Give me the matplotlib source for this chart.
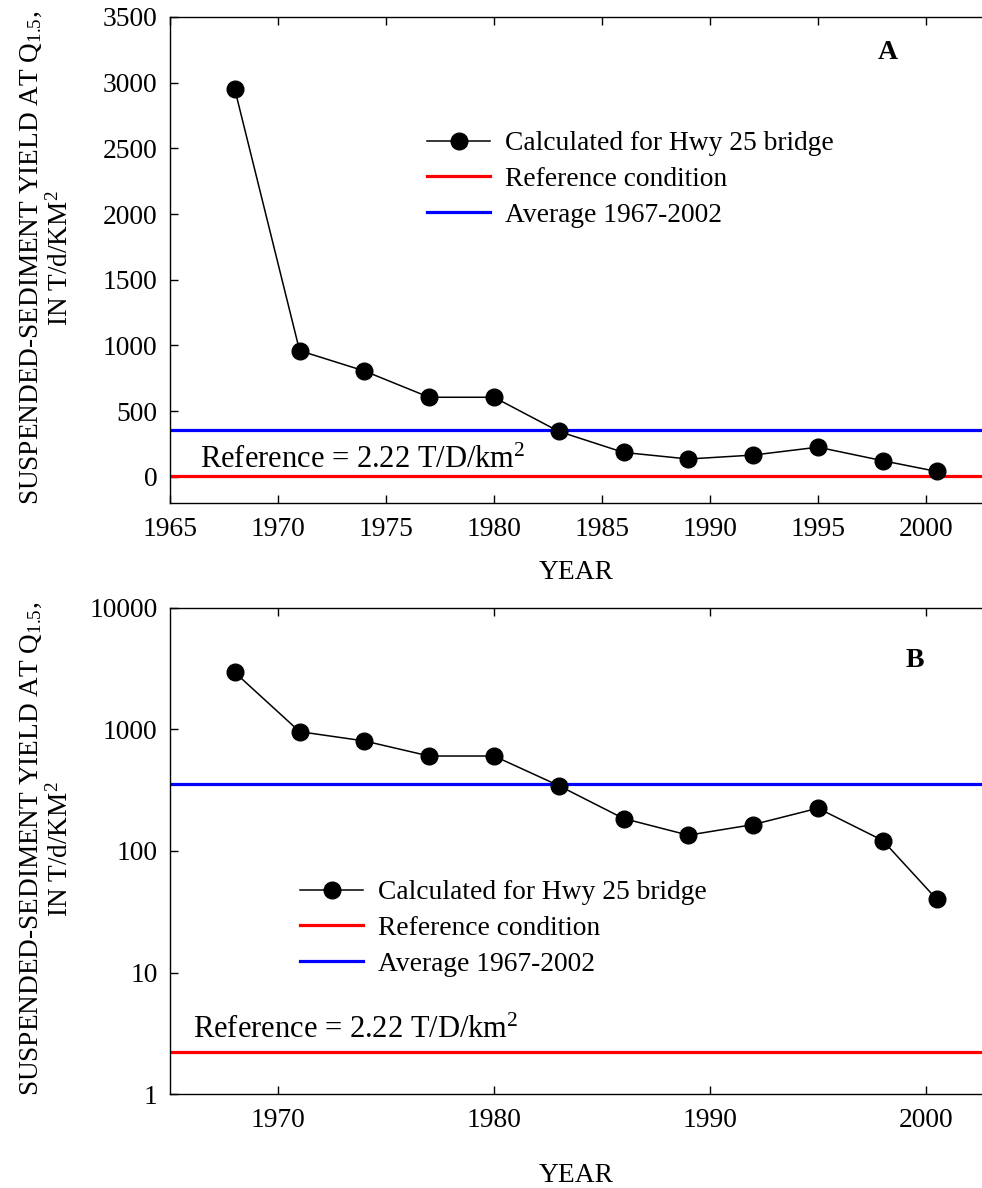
import matplotlib
matplotlib.use('Agg')
import matplotlib.pyplot as plt

# yield at Q1.5 for Hwy 25 bridge
years = [1968, 1971, 1974, 1977, 1980, 1983, 1986, 1989, 1992, 1995, 1998, 2000.5]
yields = [2950, 960, 805, 605, 605, 345, 185, 135, 165, 225, 122, 40]
reference = 2.22
average = 355

plt.rcParams['font.family'] = ['Liberation Serif', 'DejaVu Serif']
plt.rcParams['mathtext.fontset'] = 'custom'
plt.rcParams['mathtext.rm'] = 'Liberation Serif'
plt.rcParams['mathtext.it'] = 'Liberation Serif:italic'
plt.rcParams['mathtext.bf'] = 'Liberation Serif:bold'

W, H = 982, 1188
fig = plt.figure(figsize=(W / 100, H / 100), dpi=100)

ax1 = fig.add_axes([170 / W, 1 - 503 / H, (W - 170) / W, 486 / H])
ax2 = fig.add_axes([170 / W, 1 - 1094 / H, (W - 170) / W, 486 / H])

fs = 19.8
for ax in (ax1, ax2):
    ax.plot(years, yields, color='black', lw=1.1, marker='o', ms=12,
            label='Calculated for Hwy 25 bridge', zorder=3)
    ax.axhline(reference, color='#ff0000', lw=2.3, label='Reference condition', zorder=2)
    ax.axhline(average, color='#0000ff', lw=2.3, label='Average 1967-2002', zorder=2)
    ax.set_xlim(1965, 1965 + 812 / 21.6)
    ax.spines['right'].set_visible(False)
    for s in ('left', 'bottom', 'top'):
        ax.spines[s].set_linewidth(1.0)
    ax.tick_params(direction='in', length=6, width=1, labelsize=fs, top=True, right=False)
    ax.tick_params(axis='x', pad=10)
    ax.tick_params(axis='y', pad=9)

leg_kw = dict(frameon=False, fontsize=fs, handlelength=2.3, handletextpad=0.55,
              labelspacing=0.38, borderpad=0, borderaxespad=0)

ax1.set_ylim(-200, 3500)
ax1.set_yticks(range(0, 3501, 500))
ax1.set_xticks(range(1965, 2001, 5))
ax1.legend(loc='upper left', bbox_to_anchor=((427 - 170) / 812, (503 - 131) / 486), **leg_kw)
ax1.text(0.037, 0.072, 'Reference = 2.22 T/D/km$^{2}$', transform=ax1.transAxes,
         fontsize=22, ha='left', va='baseline')
ax1.text(0.884, 0.926, 'A', transform=ax1.transAxes, fontsize=20, fontweight='bold',
         ha='center', va='center')

ax2.set_yscale('log')
ax2.set_ylim(1, 10000)
ax2.set_yticks([1, 10, 100, 1000, 10000])
ax2.set_yticklabels(['1', '10', '100', '1000', '10000'])
ax2.minorticks_off()
ax2.set_xticks([1970, 1980, 1990, 2000])
ax2.legend(loc='upper left', bbox_to_anchor=((300 - 170) / 812, (1094 - 880) / 486), **leg_kw)
ax2.text(0.028, 0.115, 'Reference = 2.22 T/D/km$^{2}$', transform=ax2.transAxes,
         fontsize=22, ha='left', va='baseline')
ax2.text(0.917, 0.893, 'B', transform=ax2.transAxes, fontsize=20, fontweight='bold',
         ha='center', va='center')

ylab = 'SUSPENDED-SEDIMENT YIELD AT Q$_{1.5}$,\nIN T/d/KM$^{2}$'
fig.text(46 / W, 1 - 258 / H, ylab, rotation=90, ha='center', va='center',
         fontsize=19.6, linespacing=1.15)
fig.text(46 / W, 1 - 849 / H, ylab, rotation=90, ha='center', va='center',
         fontsize=19.6, linespacing=1.15)
fig.text(576 / W, 1 - 573 / H, 'YEAR', ha='center', va='center', fontsize=fs)
fig.text(576 / W, 1 - 1175 / H, 'YEAR', ha='center', va='center', fontsize=fs)

fig.savefig('out.png', dpi=100)
